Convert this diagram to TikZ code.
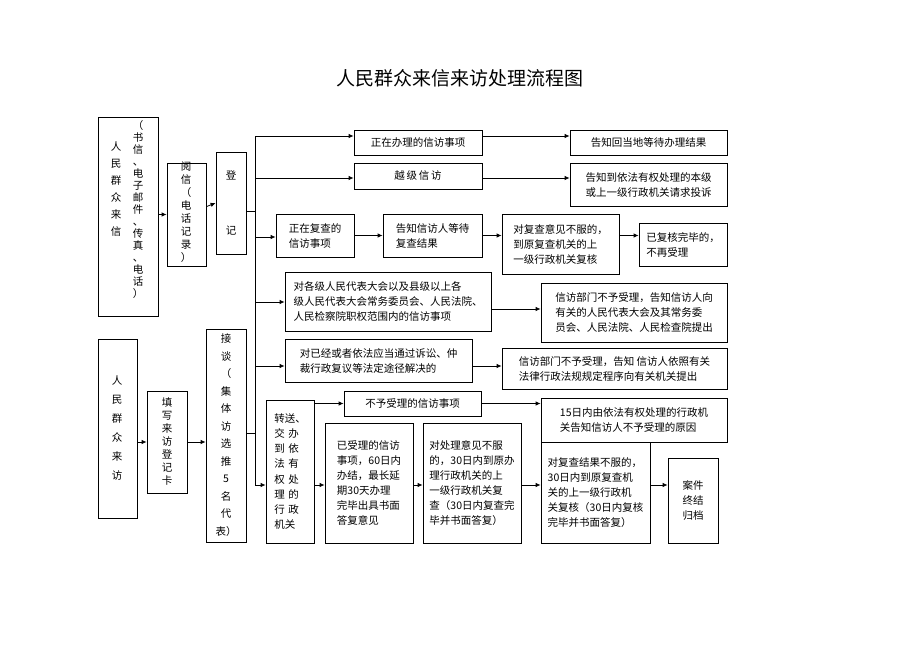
\documentclass[tikz,border=0pt]{standalone}
\usepackage{fontspec}
\newfontfamily\cjk{Noto Sans CJK SC}
\usetikzlibrary{arrows.meta}
\newcommand\bx[6]{\node[box,minimum width={(#4-#2)*1pt},minimum height={(#5-#3)*1pt}] (#1) at ({(#2+#4)/2},{-(#3+#5)/2}) {#6};}
\begin{document}
\begin{tikzpicture}[x=1pt,y=1pt,
  box/.style={draw,line width=0.8pt,inner sep=0pt,align=left,font=\cjk\fontsize{10.5}{15}\selectfont},
  vt/.style={align=center,font=\cjk\fontsize{10.5}{#1}\selectfont,inner sep=0pt},
  arr/.style={line width=0.8pt,-{Latex[length=5pt,width=4.5pt]}},
  ln/.style={line width=0.8pt}]
\useasboundingbox (0,0) rectangle (920,-651);
\node[font=\cjk\fontsize{19}{22}\selectfont] (title) at (460,-78) {人民群众来信来访处理流程图};
% left column
\bx{lx}{98}{117}{158}{316}{}
\node[vt=17] (lxa) at (116,-189) {人\\民\\群\\众\\来\\信};
\node[vt=12] (lxb) at (138,-210) {（\\书\\信\\、\\电\\子\\邮\\件\\、\\传\\真\\、\\电\\话\\）};
\bx{yx}{167}{163}{206}{266}{}
\node[vt=13] at (186,-212) {阅\\信\\（\\电\\话\\记\\录\\）};
\bx{dj}{216}{152}{246}{254}{}
\node[vt=55] at (231,-203) {登\\记};
\bx{lf}{98}{339}{137}{518}{}
\node[vt=19] at (117,-428) {人\\民\\群\\众\\来\\访};
\bx{tx}{147}{391}{187}{493}{}
\node[vt=13] at (167,-442) {填\\写\\来\\访\\登\\记\\卡};
\bx{jt}{206}{329}{246}{542}{}
\node[vt=17.5] at (226,-435) {接\\谈\\（\\集\\体\\访\\选\\推\\5\\名\\代\\表）};
% right boxes
\bx{a1}{354}{130}{482}{155}{正在办理的信访事项}
\bx{a2}{570}{130}{727}{155}{告知回当地等待办理结果}
\bx{b1}{354}{163}{482}{189}{越\,级\,信\,访}
\bx{b2}{570}{163}{727}{206}{告知到依法有权处理的本级\\或上一级行政机关请求投诉}
\bx{c1}{276}{214}{354}{257}{正在复查的\\信访事项}
\bx{c2}{383}{214}{482}{257}{告知信访人等待\\复查结果}
\bx{c3}{502}{214}{619}{274}{对复查意见不服的，\\到原复查机关的上\\一级行政机关复核}
\bx{c4}{639}{223}{727}{266}{已复核完毕的，\\不再受理}
\bx{d1}{285}{272}{491}{331}{对各级人民代表大会以及县级以上各\\级人民代表大会常务委员会、人民法院、\\人民检察院职权范围内的信访事项}
\bx{d2}{541}{283}{727}{342}{信访部门不予受理，告知信访人向\\有关的人民代表大会及其常务委\\员会、人民法院、人民检查院提出}
\bx{e1}{285}{339}{472}{382}{对已经或者依法应当通过诉讼、仲\\裁行政复议等法定途径解决的}
\bx{e2}{502}{348}{727}{389}{信访部门不予受理，告知 信访人依照有关\\法律行政法规规定程序向有关机关提出}
\bx{f0}{266}{400}{314}{543}{转送、\\交\,\,办\\到\,\,依\\法\,\,有\\权\,\,处\\理\,\,的\\行\,\,政\\机关}
\bx{f1}{344}{391}{481}{416}{不予受理的信访事项}
\bx{f2}{541}{398}{727}{442}{15日内由依法有权处理的行政机\\关告知信访人不予受理的原因}
\bx{g1}{325}{423}{413}{543}{已受理的信访\\事项，60日内\\办结，最长延\\期30天办理\\完毕出具书面\\答复意见}
\bx{g2}{423}{423}{521}{543}{对处理意见不服\\的，30日内到原办\\理行政机关的上\\一级行政机关复\\查（30日内复查完\\毕并书面答复）}
\bx{g3}{541}{442}{650}{543}{对复查结果不服的，\\30日内到原复查机\\关的上一级行政机\\关复核（30日内复核\\完毕并书面答复）}
\bx{g4}{668}{458}{718}{543}{案件\\终结\\归档}
% connectors
\coordinate (tt) at (255,-136);
\coordinate (tb) at (255,-485);
\coordinate (t2) at (255,-178);
\coordinate (t3) at (255,-237);
\coordinate (t4) at (255,-302);
\coordinate (t5) at (255,-366);
\coordinate (tj) at (255,-211);
\coordinate (tk) at (255,-433);
\draw[ln] (tt) -- (tb);
\draw[arr] (lx.east |- yx) -- (yx.west);
\draw[arr] (yx) -- (dj.west);
\draw[ln] (dj.east |- tj) -- (tj);
\draw[arr] (lf.east |- tx) -- (tx.west);
\draw[arr] (tx) -- (jt.west |- tx);
\draw[ln] (jt.east |- tk) -- (tk);
\draw[arr] (tt) -- (tt -| a1.west);
\draw[arr] (t2) -- (t2 -| b1.west);
\draw[arr] (t3) -- (t3 -| c1.west);
\draw[arr] (t4) -- (t4 -| d1.west);
\draw[arr] (t5) -- (t5 -| e1.west);
\draw[arr] (tb) -- (tb -| f0.west);
\draw[arr] (a1.east |- tt) -- (tt -| a2.west);
\draw[arr] (b1.east |- t2) -- (t2 -| b2.west);
\draw[arr] (c1) -- (c2);
\draw[arr] (c2) -- (c2 -| c3.west);
\draw[arr] (c3.east |- c2) -- (c2 -| c4.west);
\draw[arr] (d1.east |- 0,-309) -- (d2.west |- 0,-309);
\draw[arr] (e1.east |- 0,-366) -- (e2.west |- 0,-366);
\draw[arr] (f0.east |- f1) -- (f1.west);
\draw[arr] (f1) -- (f1 -| f2.west);
\draw[arr] (f0.east |- tb) -- (tb -| g1.west);
\draw[arr] (g1.east |- tb) -- (tb -| g2.west);
\draw[arr] (g2.east |- tb) -- (tb -| g3.west);
\draw[arr] (g3.east |- tb) -- (tb -| g4.west);
\end{tikzpicture}
\end{document}
